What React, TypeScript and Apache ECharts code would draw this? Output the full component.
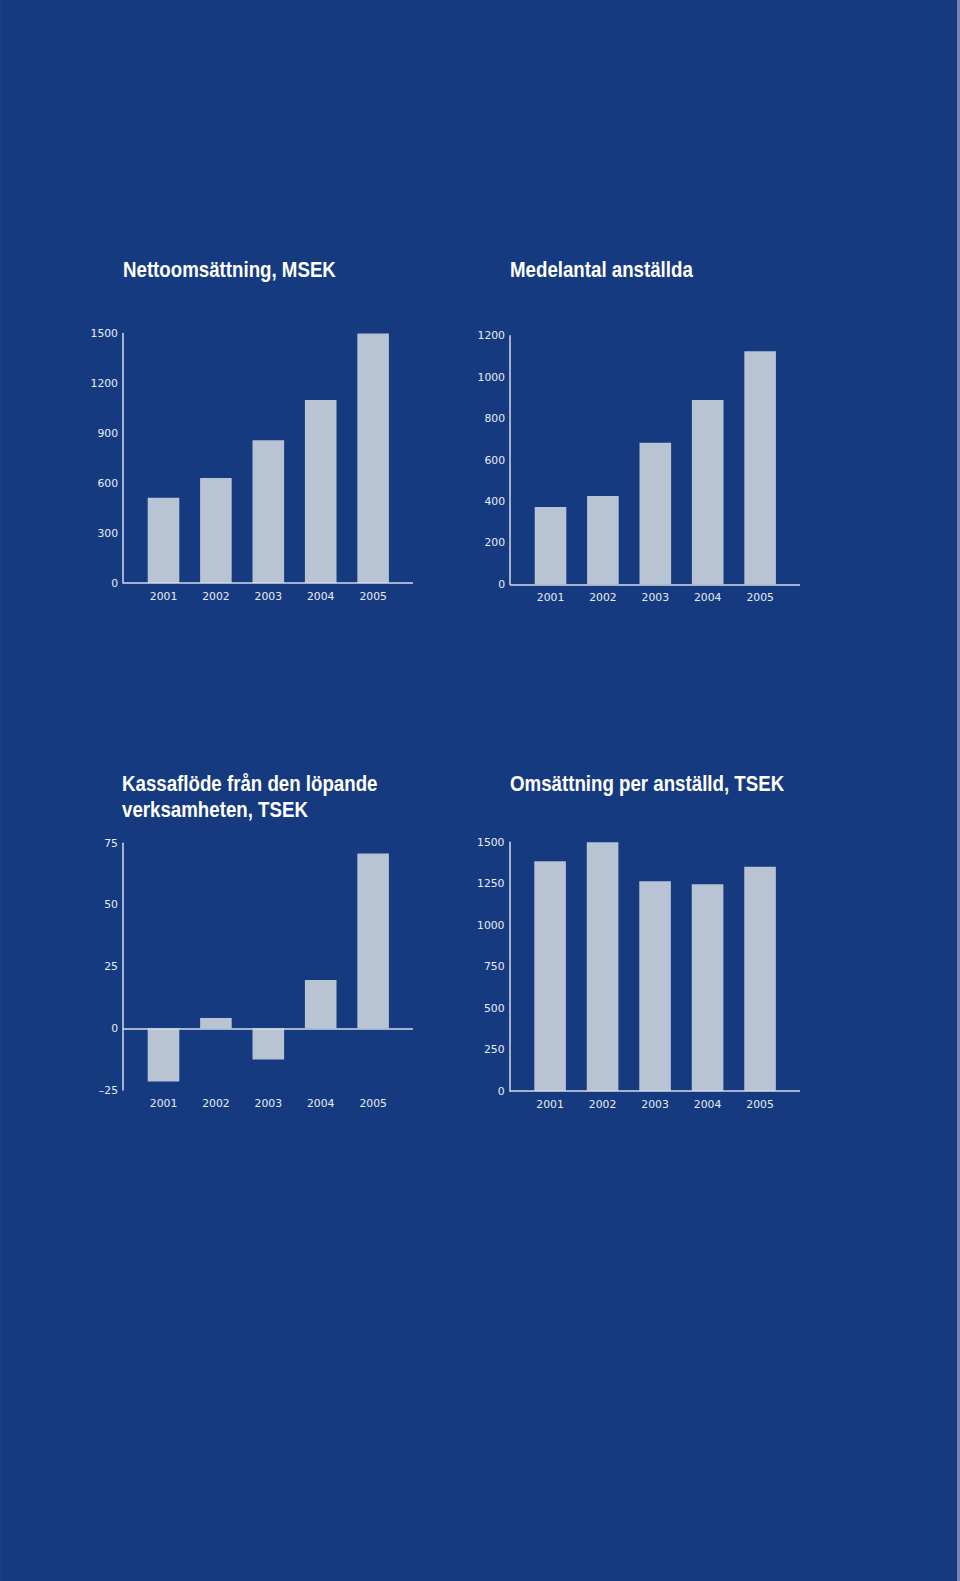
import React, { useEffect, useRef } from "react";
import * as echarts from "echarts";

const years = ["2001", "2002", "2003", "2004", "2005"];
const yearPositions = [1, 2, 3, 4, 5];

const netSales = [512, 632, 858, 1100, 1500];
const employees = [373, 426, 683, 890, 1125];
const cashFlow = [-21.6, 4.2, -12.6, 19.6, 70.9];
const salesPerEmployee = [1385, 1500, 1265, 1247, 1353];

const titles = [
  "Nettoomsättning, MSEK",
  "Medelantal anställda",
  "Kassaflöde från den löpande\nverksamheten, TSEK",
  "Omsättning per anställd, TSEK",
];

const yScales = [
  { min: 0, max: 1500, interval: 300 },
  { min: 0, max: 1200, interval: 200 },
  { min: -25, max: 75, interval: 25 },
  { min: 0, max: 1500, interval: 250 },
];

const seriesValues = [netSales, employees, cashFlow, salesPerEmployee];

const BG = "#163A80";
const BAR = "#B8C3D3";
const AXIS = "#D3DAE8";
const LABEL = "#E8ECF4";

const grids = [
  { left: 123, top: 333.5, width: 290, height: 249.5 },
  { left: 510, top: 335.7, width: 290, height: 248.6 },
  { left: 123, top: 843.3, width: 290, height: 246.7 },
  { left: 509.5, top: 842.3, width: 290.5, height: 248.7 },
];

const titlePos = [
  { x: 123, y: 269.5 },
  { x: 510, y: 269.5 },
  { x: 122, y: 796 },
  { x: 510, y: 783 },
];

export default function App() {
  const ref = useRef<HTMLDivElement>(null);

  useEffect(() => {
    document.body.style.margin = "0";
    document.body.style.background = BG;
    const chart = echarts.init(ref.current!, null, { renderer: "svg" });

    const option: any = {
      animation: false,
      backgroundColor: BG,
      grid: grids.map((g) => ({ ...g, containLabel: false })),
      xAxis: grids.map((_, i) => ({
        type: "value",
        gridIndex: i,
        min: 0.227,
        max: 5.761,
        splitLine: { show: false },
        axisTick: { show: false },
        axisLine: { show: false, onZero: false },
        axisLabel: {
          customValues: yearPositions,
          formatter: (v: number) => years[Math.round(v) - 1] ?? "",
          color: LABEL,
          fontFamily: "DejaVu Sans",
          fontSize: 10.8,
          margin: 8,
        },
      })),
      yAxis: yScales.map((s, i) => ({
        type: "value",
        gridIndex: i,
        min: s.min,
        max: s.max,
        interval: s.interval,
        splitLine: { show: false },
        axisTick: { show: false },
        axisLine: { show: true, lineStyle: { color: AXIS, width: 1.5 } },
        axisLabel: {
          color: LABEL,
          fontFamily: "DejaVu Sans",
          fontSize: 10.8,
          margin: 5,
          formatter: (v: number) => (v < 0 ? "\u2013" + Math.abs(v) : String(v)),
        },
      })),
      series: seriesValues.map((vals, i) => ({
        type: "bar",
        xAxisIndex: i,
        yAxisIndex: i,
        barWidth: 31.6,
        itemStyle: { color: BAR },
        data: vals.map((v, j) => [yearPositions[j], v]),
        markLine: {
          silent: true,
          symbol: "none",
          label: { show: false },
          lineStyle: { color: AXIS, width: 1.5, type: "solid" },
          data: [{ yAxis: 0 }],
        },
      })),
      graphic: [
        ...titles.map((t, i) => ({
          type: "text",
          x: titlePos[i].x,
          y: titlePos[i].y,
          scaleX: 0.85,
          style: {
            text: t,
            fill: "#FFFFFF",
            font: 'bold 22px "Liberation Sans", Arial, sans-serif',
            lineHeight: 26,
            verticalAlign: "middle",
            align: "left",
          },
        })),
        { type: "rect", shape: { x: 0, y: 0, width: 2, height: 1581 }, style: { fill: "#1D3D7B" } },
        { type: "rect", shape: { x: 955, y: 0, width: 2, height: 1581 }, style: { fill: "#1A3576" } },
        { type: "rect", shape: { x: 957, y: 0, width: 3, height: 1581 }, style: { fill: "#7384B6" } },
      ],
    };

    chart.setOption(option);
    return () => chart.dispose();
  }, []);

  return <div ref={ref} style={{ width: 960, height: 1581 }} />;
}
